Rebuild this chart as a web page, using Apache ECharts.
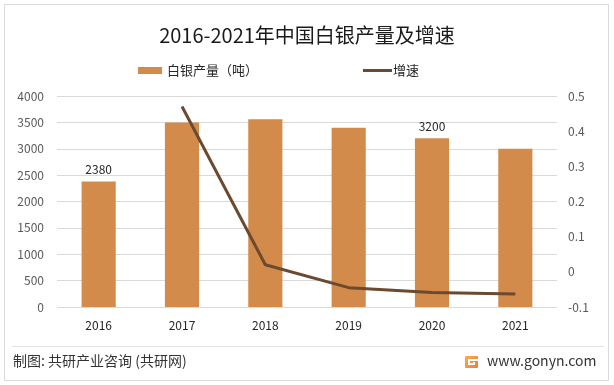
<!DOCTYPE html>
<html>
<head>
<meta charset="utf-8">
<script src="https://cdn.jsdelivr.net/npm/echarts@6/dist/echarts.min.js"></script>
<style>html,body{margin:0;padding:0;background:#fff}#c{width:614px;height:385px}</style>
</head>
<body>
<div id="c"></div>
<script>
const years = ['2016','2017','2018','2019','2020','2021'];
const output = [2380, 3500, 3560, 3400, 3200, 3000];
const growth = [null, 0.47, 0.02, -0.045, -0.059, -0.063];
const labeledYears = ['2016','2020'];
const leftTicks = {min:0, max:4000, interval:500};
const rightTicks = {min:-0.1, max:0.5, interval:0.1};

const F = '"Noto Sans CJK SC", "Noto Sans", sans-serif';
const chart = echarts.init(document.getElementById('c'));
chart.setOption({
  animation:false,
  title:{text:'2016-2021年中国白银产量及增速', left:'center', top:20,
    textStyle:{fontFamily:F, fontSize:20, fontWeight:'normal', color:'#1a1a1a'}},
  legend:[
    {left:133, top:59, itemWidth:24, itemHeight:7,
     textStyle:{fontFamily:F, fontSize:13, color:'#262626'},
     data:[{name:'白银产量（吨）', icon:'rect'}]},
    {left:358, top:59, itemWidth:29, itemHeight:3,
     textStyle:{fontFamily:F, fontSize:13, color:'#262626', padding:[0,0,0,-4]},
     data:[{name:'增速', icon:'rect', itemStyle:{color:'#6b4a2f'}}]}
  ],
  grid:{left:57, right:57, top:96, bottom:78},
  xAxis:{type:'category', data:years,
    axisLine:{show:false}, axisTick:{show:false},
    axisLabel:{fontFamily:F, fontSize:12, color:'#262626', margin:12}},
  yAxis:[
    {type:'value', min:leftTicks.min, max:leftTicks.max, interval:leftTicks.interval,
     axisLabel:{fontFamily:F, fontSize:12, color:'#595959', margin:13, formatter:v=>String(v)},
     splitLine:{lineStyle:{color:'#d9d9d9', width:1}}},
    {type:'value', min:rightTicks.min, max:rightTicks.max, interval:rightTicks.interval,
     axisLabel:{fontFamily:F, fontSize:12, color:'#595959', margin:11,
       formatter:v=>String(Math.round(v*10)/10)},
     splitLine:{show:false}}
  ],
  series:[
    {name:'白银产量（吨）', type:'bar', barWidth:'41%', yAxisIndex:0,
     itemStyle:{color:'#d38b4c'},
     data:output.map((v,i)=>({value:v, label:{show:labeledYears.includes(years[i])}})),
     label:{position:'top', distance:6, fontFamily:F, fontSize:12, color:'#262626'}},
    {name:'增速', type:'line', yAxisIndex:1, data:growth, symbol:'none',
     lineStyle:{color:'#6b4a2f', width:3}, itemStyle:{color:'#6b4a2f'}}
  ],
  graphic:[
    {type:'rect', shape:{x:4.5, y:4.5, width:604, height:376}, style:{fill:'none', stroke:'#d9d9d9', lineWidth:1}, silent:true},
    {type:'line', shape:{x1:12, y1:346.5, x2:604, y2:346.5}, style:{stroke:'#e3e3e3', lineWidth:1}},
    {type:'text', left:13, top:354, style:{text:'制图: 共研产业咨询 (共研网)', font:'14px '+F, fill:'#333'}},
    {type:'group', left:465, top:356, children:[
      {type:'rect', shape:{x:0, y:0, width:13, height:12, r:1},
       style:{fill:new echarts.graphic.LinearGradient(0,0,1,1,[{offset:0,color:'#f6b04e'},{offset:1,color:'#f07b3a'}])}},
      {type:'rect', shape:{x:3, y:3, width:10, height:2}, style:{fill:'#fff'}},
      {type:'rect', shape:{x:3, y:3, width:2, height:6}, style:{fill:'#fff'}},
      {type:'rect', shape:{x:3, y:7, width:7, height:2}, style:{fill:'#fff'}},
      {type:'rect', shape:{x:8, y:6, width:2, height:3}, style:{fill:'#fff'}}
    ]},
    {type:'text', left:487, top:354, style:{text:'www.gonyn.com', font:'14px '+F, fill:'#333'}}
  ]
});
</script>
</body>
</html>
